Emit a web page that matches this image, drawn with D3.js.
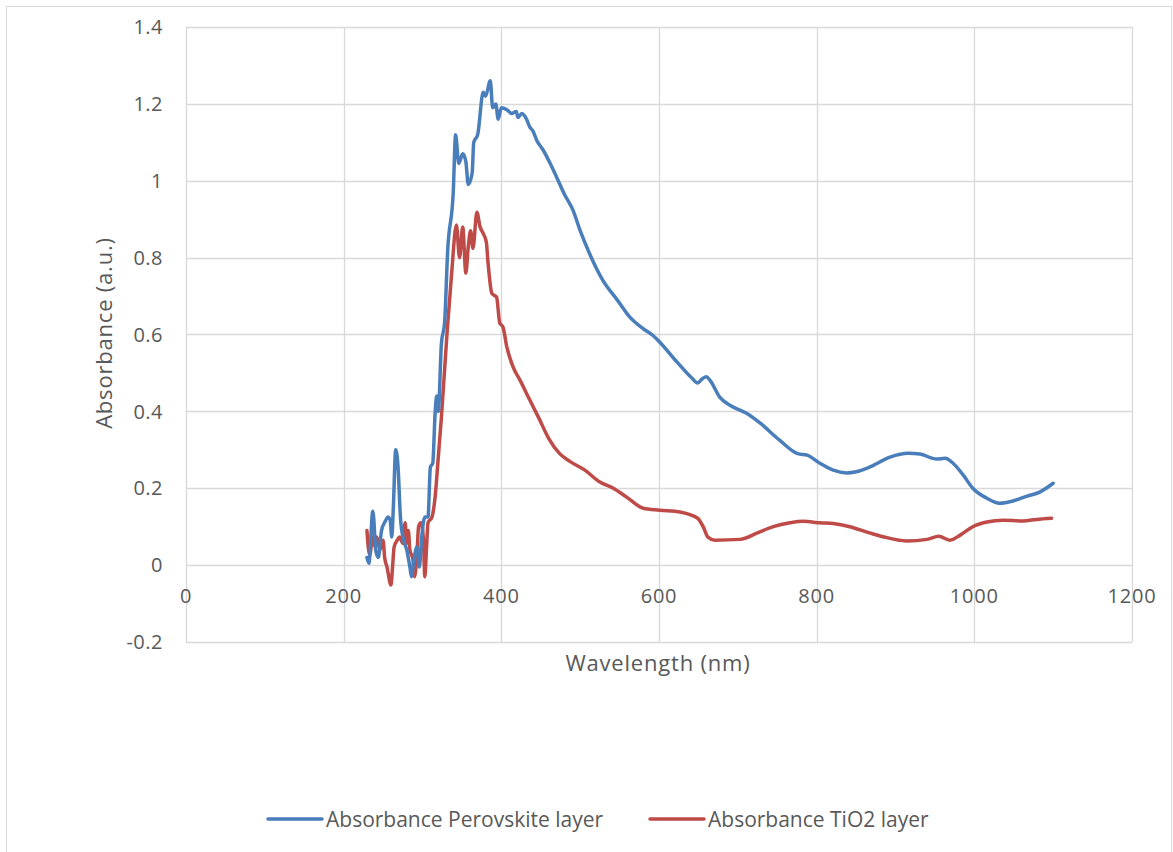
<!DOCTYPE html>
<html>
<head>
<meta charset="utf-8">
<script src="https://cdn.jsdelivr.net/npm/d3@7"></script>
<style>
  body { margin: 0; background: #fff; }
  text { font-family: "Open Sans", "Noto Sans", sans-serif; fill: #595959; }
</style>
</head>
<body>
<div id="chart"></div>
<script>
// tick values
var xTicks = [0, 200, 400, 600, 800, 1000, 1200];
var yTicks = [-0.2, 0, 0.2, 0.4, 0.6, 0.8, 1, 1.2, 1.4];

// Absorbance Perovskite layer
var perovskiteWl = [229.5,232,237,241,244,248,253,256,259,261,263,266,269,272,276,280,284,286,289,293,296,299,303,307,310,313,316,318,320,324,328,332,339,342,346,351,355,358,363,365,370,377,380,386,389,393,396,400,407,413,419,421,426,432,436,440,445,453,462,470,480,491,500,512,529,547,563,580,592,601,623,642,649,655,660,665,677,690,711,728,753,776,788,804,821,838,850,867,893,916,931,952,963,973,986,998,1016,1032,1049,1066,1083,1100];
var perovskiteAbs = [0.02,0.005,0.14,0.035,0.02,0.09,0.115,0.125,0.117,0.073,0.15,0.30,0.255,0.125,0.065,0.04,-0.005,-0.03,0.013,0.047,-0.005,0.073,0.125,0.125,0.255,0.265,0.395,0.44,0.40,0.577,0.63,0.82,0.97,1.12,1.045,1.07,1.05,0.99,1.02,1.10,1.12,1.23,1.22,1.26,1.19,1.20,1.16,1.19,1.185,1.175,1.18,1.165,1.175,1.16,1.14,1.13,1.105,1.08,1.045,1.01,0.965,0.923,0.87,0.81,0.74,0.69,0.645,0.615,0.598,0.58,0.528,0.486,0.474,0.485,0.49,0.48,0.437,0.416,0.395,0.37,0.325,0.29,0.286,0.265,0.247,0.24,0.243,0.255,0.281,0.291,0.289,0.276,0.278,0.265,0.234,0.2,0.174,0.161,0.167,0.179,0.19,0.213];

// Absorbance TiO2 layer
var tio2Wl = [229.5,233,237,240,242,246,250,252,255,260,262,264,268,271,275,278,280,282,284,288,290,293,295,298,301,303,305,307,312,316,320,324,331,337,343,347,351,355,358,361,364,369,373,377,381,383,388,394,398,402,407,415,424,436,447,460,474,487,506,525,542,559,580,601,627,649,656,662,671,703,724,745,766,783,804,821,842,867,884,914,940,955,969,982,998,1016,1036,1062,1079,1098];
var tio2Abs = [0.09,0.026,0.073,0.047,0.073,0.04,0.065,0.02,-0.005,-0.052,-0.005,0.047,0.065,0.073,0.057,0.11,0.057,0.09,0.04,0.013,-0.03,0.03,0.1,0.11,0.073,-0.03,0.04,0.11,0.125,0.177,0.28,0.385,0.6,0.76,0.885,0.8,0.88,0.76,0.827,0.87,0.824,0.918,0.88,0.863,0.84,0.79,0.707,0.697,0.63,0.62,0.567,0.515,0.48,0.43,0.385,0.33,0.29,0.27,0.247,0.216,0.2,0.177,0.148,0.143,0.138,0.122,0.1,0.073,0.065,0.067,0.083,0.1,0.11,0.114,0.11,0.108,0.1,0.084,0.074,0.063,0.067,0.075,0.065,0.078,0.1,0.112,0.117,0.115,0.119,0.122];

var W = 1173, H = 852;
var svg = d3.select("#chart").append("svg").attr("width", W).attr("height", H);

// chart border
svg.append("rect").attr("x", 6.5).attr("y", 6.5).attr("width", 1165).attr("height", 880)
  .attr("fill", "none").attr("stroke", "#d9d9d9").attr("stroke-width", 1);

var x = d3.scaleLinear().domain([0, 1200]).range([186, 1132]);
var y = d3.scaleLinear().domain([-0.2, 1.4]).range([642, 27]);

// grid
svg.append("g").selectAll("line").data(yTicks).enter().append("line")
  .attr("x1", x(0)).attr("x2", x(1200))
  .attr("y1", function (d) { return Math.round(y(d)) + 0.5; })
  .attr("y2", function (d) { return Math.round(y(d)) + 0.5; })
  .attr("stroke", "#d9d9d9").attr("stroke-width", 1.3);
svg.append("g").selectAll("line").data(xTicks).enter().append("line")
  .attr("y1", y(-0.2)).attr("y2", y(1.4))
  .attr("x1", function (d) { return Math.round(x(d)) + 0.5; })
  .attr("x2", function (d) { return Math.round(x(d)) + 0.5; })
  .attr("stroke", "#d9d9d9").attr("stroke-width", 1.3);

// tick labels
svg.append("g").selectAll("text").data(yTicks).enter().append("text")
  .attr("x", 163).attr("y", function (d) { return y(d); })
  .attr("dy", "0.36em").attr("text-anchor", "end").style("font-size", "20px")
  .style("letter-spacing", "0.5px")
  .text(function (d) { return d; });
svg.append("g").selectAll("text").data(xTicks).enter().append("text")
  .attr("x", function (d) { return x(d); }).attr("y", 596)
  .attr("dy", "0.36em").attr("text-anchor", "middle").style("font-size", "20px")
  .style("letter-spacing", "0.8px")
  .text(function (d) { return d; });

// axis titles
svg.append("text").attr("transform", "translate(104,333) rotate(-90)")
  .attr("text-anchor", "middle").attr("dy", "0.36em").style("font-size", "22px")
  .style("letter-spacing", "0.8px")
  .text("Absorbance (a.u.)");
svg.append("text").attr("x", 658).attr("y", 663).attr("dy", "0.36em")
  .attr("text-anchor", "middle").style("font-size", "22px")
  .style("letter-spacing", "0.8px")
  .text("Wavelength (nm)");

// series
var series = [
  { name: "Absorbance Perovskite layer", wl: perovskiteWl, abs: perovskiteAbs, color: "#4a7ebb" },
  { name: "Absorbance TiO2 layer", wl: tio2Wl, abs: tio2Abs, color: "#be4b48" }
];
var line = d3.line()
  .curve(d3.curveMonotoneX)
  .x(function (d) { return x(d[0]); })
  .y(function (d) { return y(d[1]); });

series.slice().reverse().forEach(function (s) {
  var pts = s.wl.map(function (w, i) { return [w, s.abs[i]]; });
  svg.append("path").datum(pts).attr("d", line)
    .attr("fill", "none").attr("stroke", s.color).attr("stroke-width", 3.5)
    .attr("stroke-linejoin", "round").attr("stroke-linecap", "round");
});

// legend
var legX = [268, 650];
series.forEach(function (s, i) {
  svg.append("line").attr("x1", legX[i]).attr("x2", legX[i] + 54)
    .attr("y1", 819).attr("y2", 819).attr("stroke", s.color).attr("stroke-width", 3.5)
    .attr("stroke-linecap", "round");
  svg.append("text").attr("x", legX[i] + 58).attr("y", 819).attr("dy", "0.36em")
    .style("font-size", "21px").text(s.name);
});
</script>
</body>
</html>
